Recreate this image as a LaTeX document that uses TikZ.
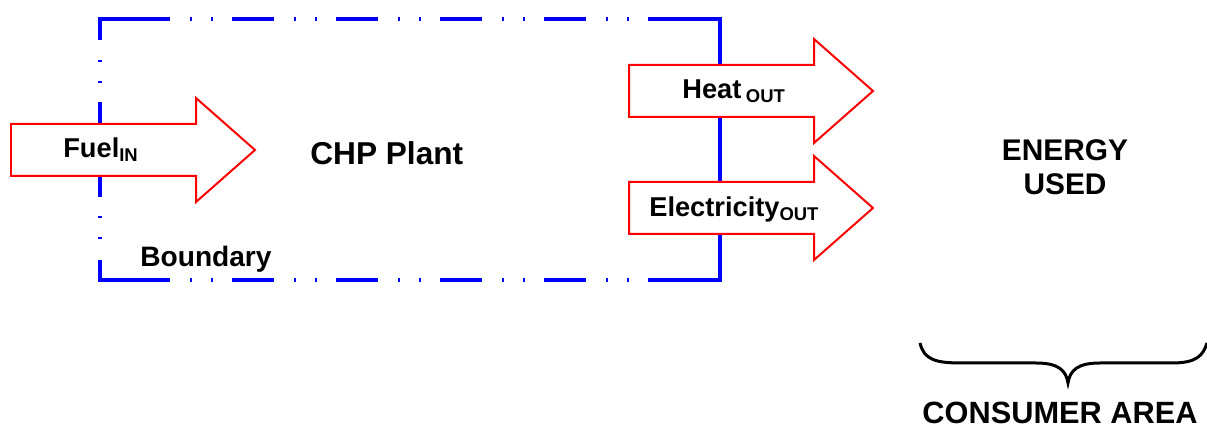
\documentclass[tikz,border=0pt]{standalone}
\usepackage{fontspec}
\setmainfont{Liberation Sans}
\newcommand{\lbl}[1]{\fontsize{15.5pt}{18pt}\selectfont\bfseries #1}
\newcommand{\subtxt}[1]{\raisebox{-2pt}{\fontsize{10.5pt}{12pt}\selectfont\bfseries #1}}

\begin{document}
\begin{tikzpicture}[x=0.02cm, y=-0.02cm,
    boundary line/.style={draw=blue, line width=0.08cm, line join=miter},
    top dash/.style={dash pattern=on 0.84cm off 0.4cm on 0.04cm off 0.38cm on 0.04cm off 0.38cm, dash phase=0.84cm},
    side dash/.style={dash pattern=on 0cm off 0.4cm on 0.04cm off 0.38cm on 0.04cm off 0.38cm on 1.9cm off 0.38cm on 0.04cm off 0.38cm on 0.04cm off 0.42cm},
    flow/.style={draw=red, fill=white, line width=0.04cm, line join=miter},
    flow arrow/.pic={\draw[flow] (0,-26) -- (185,-26) -- (185,-52) -- (244,0) -- (185,52) -- (185,26) -- (0,26) -- cycle;},
    every node/.style={inner sep=0pt, font=\bfseries}]
    \useasboundingbox (0,0) rectangle (1207,428);

    % system boundary
    \draw[boundary line] (100,40) -- (100,19) -- (170,19);
    \draw[boundary line] (100,260) -- (100,280) -- (170,280);
    \draw[boundary line] (652,19) -- (720,19) -- (720,280) -- (652,280);
    \draw[boundary line, top dash] (170,19) -- (652,19);
    \draw[boundary line, top dash] (170,280) -- (652,280);
    \draw[boundary line, side dash] (100,40) -- (100,260);

    % energy flows
    \pic at (11,150) {flow arrow};
    \pic at (629,91) {flow arrow};
    \pic at (629,208) {flow arrow};

    \node[anchor=base west] (fuel) at (63,158) {\lbl{Fuel}\subtxt{IN}};
    \node[anchor=base west] (heat) at (682,99) {\lbl{Heat}\,\subtxt{OUT}};
    \node[anchor=base west] (elec) at (649,217) {\lbl{Electricity}\subtxt{OUT}};

    \node[anchor=base west, font=\fontsize{16pt}{19pt}\selectfont\bfseries] (bnd) at (140,267) {Boundary};
    \node[anchor=base west, font=\fontsize{18pt}{21pt}\selectfont\bfseries] (plant) at (310,165) {CHP Plant};
    \node[anchor=base, align=center, font=\fontsize{17pt}{19.8pt}\selectfont\bfseries] (used) at (1065,195) {ENERGY\\USED};

    % consumer side
    \draw[line width=0.06cm] (920,343) .. controls (924,360) and (936,363) .. (962,363)
        -- (1036,363) .. controls (1058,363) and (1066,370) .. (1068,383)
        .. controls (1070,370) and (1078,363) .. (1100,363)
        -- (1172,363) .. controls (1196,363) and (1203,356) .. (1207,343);
    \node[anchor=base, font=\fontsize{17.5pt}{20pt}\selectfont\bfseries] (consumer) at (1060,424) {CONSUMER AREA};
\end{tikzpicture}
\end{document}
